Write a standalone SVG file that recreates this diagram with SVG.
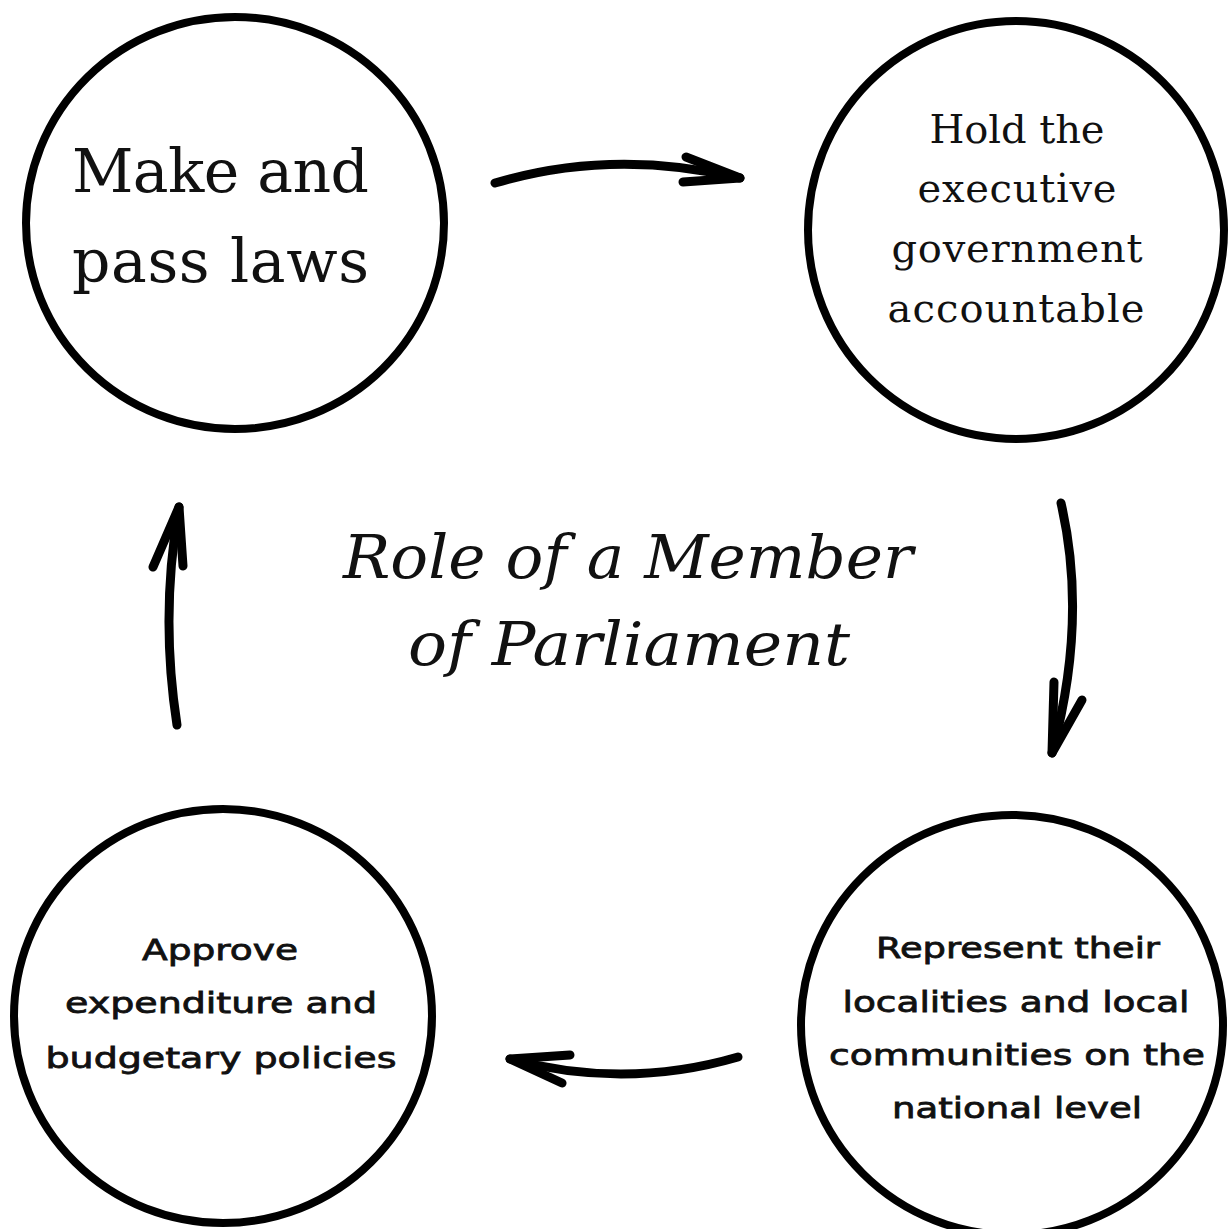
<svg xmlns="http://www.w3.org/2000/svg" width="1231" height="1229" viewBox="0 0 1231 1229">
<style>
.node{fill:#fff;stroke:#000;stroke-width:8}
.conn{fill:none;stroke:#000;stroke-width:9;stroke-linecap:round;stroke-linejoin:round}
.big{font-family:"DejaVu Serif",serif;font-size:60px;fill:#111}
.serif{font-family:"DejaVu Serif",serif;font-size:40px;fill:#111;text-anchor:middle}
.deco{font-family:"DejaVu Sans",sans-serif;font-size:29px;fill:#111;stroke:#111;stroke-width:0.8;text-anchor:middle}
.title{font-family:"DejaVu Serif",serif;font-style:italic;font-size:60px;fill:#111;text-anchor:middle}
</style>
<rect width="1231" height="1229" fill="#fff"/>
<g id="node-make-laws">
<ellipse class="node" cx="235" cy="223" rx="209" ry="206"/>
<text class="big" x="72" y="192" textLength="297">Make and</text>
<text class="big" x="72" y="282" textLength="297">pass laws</text>
</g>
<g id="node-hold-executive">
<ellipse class="node" cx="1016" cy="230" rx="208" ry="209"/>
<text class="serif" x="1017" y="143" textLength="175">Hold the</text>
<text class="serif" x="1017" y="202" textLength="199">executive</text>
<text class="serif" x="1017" y="262" textLength="251">government</text>
<text class="serif" x="1016" y="322" textLength="257">accountable</text>
</g>
<g id="node-represent">
<ellipse class="node" cx="1012" cy="1025" rx="211" ry="210"/>
<text class="deco" x="1018" y="958" textLength="284" lengthAdjust="spacingAndGlyphs">Represent their</text>
<text class="deco" x="1016" y="1012" textLength="347" lengthAdjust="spacingAndGlyphs">localities and local</text>
<text class="deco" x="1017" y="1065" textLength="376" lengthAdjust="spacingAndGlyphs">communities on the</text>
<text class="deco" x="1017" y="1118" textLength="250" lengthAdjust="spacingAndGlyphs">national level</text>
</g>
<g id="node-approve">
<ellipse class="node" cx="223" cy="1016" rx="209" ry="207"/>
<text class="deco" x="220" y="960" textLength="156" lengthAdjust="spacingAndGlyphs">Approve</text>
<text class="deco" x="221" y="1013" textLength="312" lengthAdjust="spacingAndGlyphs">expenditure and</text>
<text class="deco" x="221" y="1068" textLength="351" lengthAdjust="spacingAndGlyphs">budgetary policies</text>
</g>
<g id="title">
<text class="title" x="628" y="578" textLength="570" lengthAdjust="spacingAndGlyphs">Role of a Member</text>
<text class="title" x="629" y="665" textLength="442" lengthAdjust="spacingAndGlyphs">of Parliament</text>
</g>
<g id="connectors">
<path class="conn" d="M495,183 Q612,148 740,178"/>
<path class="conn" d="M686,157 L740,178 L683,182"/>
<path class="conn" d="M1061,503 Q1088,620 1052,753"/>
<path class="conn" d="M1054,682 L1052,753 L1082,700"/>
<path class="conn" d="M738,1057 Q625,1090 510,1059"/>
<path class="conn" d="M570,1055 L510,1059 L562,1083"/>
<path class="conn" d="M177,725 Q160,615 179,507"/>
<path class="conn" d="M153,567 L179,507 L183,566"/>
</g>
</svg>
